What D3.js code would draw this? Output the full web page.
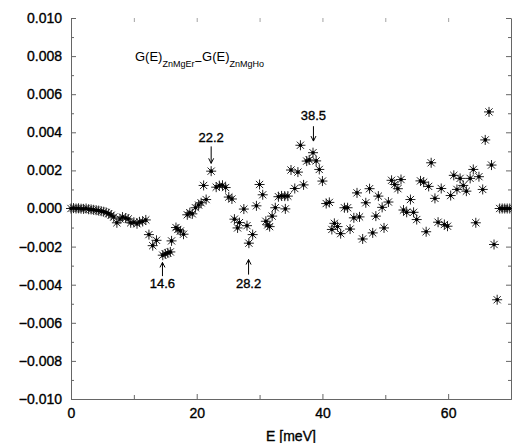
<!DOCTYPE html>
<html>
<head>
<meta charset="utf-8">
<script src="https://cdn.jsdelivr.net/npm/d3@7"></script>
<style>
  body { margin: 0; background: #fff; }
  svg { display: block; font-family: "Liberation Sans", Arial, Helvetica, sans-serif; }
  .txt { stroke: #000; stroke-width: 0.35px; }
</style>
</head>
<body>
<svg id="chart" width="512" height="443"></svg>
<script>
// energy in meV
const energy = [
  0, 0.4, 0.8, 1.2, 1.6, 2.0, 2.4, 2.8, 3.2, 3.6, 4.0, 4.4, 4.8, 5.2, 5.6, 6.0, 6.4, 6.8,
  7.3, 7.8, 8.2, 8.7, 9.1, 9.5, 10.0, 10.5, 10.9, 11.4, 11.9,
  12.4, 13.0, 13.6, 14.6, 15.0, 15.4, 15.8, 16.0, 16.7, 17.0, 17.4, 17.9,
  18.5, 18.9, 19.3, 19.8, 20.3, 20.7, 21.1, 21.5, 22.3, 23.1, 23.6, 24.1, 24.6,
  25.1, 25.6, 26.0, 26.5, 26.8, 27.5, 28.0, 28.3, 28.9, 29.5, 30.0, 30.5,
  31.0, 31.3, 31.6, 32.0, 32.5, 33.0, 33.5, 34.0, 34.1, 34.5, 35.0, 35.6,
  36.1, 36.5, 37.0, 37.5, 37.9, 38.5, 39.0, 39.5, 40.0, 40.6, 41.1, 41.5,
  41.9, 42.4, 42.9, 43.5, 44.0, 44.4, 45.0, 45.5, 45.9, 46.4, 46.9, 47.5,
  48.0, 48.5, 48.9, 49.5, 49.8, 50.5, 51.0, 51.5, 52.0, 52.5, 52.9, 53.4,
  54.0, 54.5, 55.0, 55.6, 56.1, 56.5, 56.9, 57.3, 57.9, 58.4, 58.9, 59.4,
  59.9, 60.4, 60.9, 61.4, 61.9, 62.4, 62.9, 63.5, 64.0, 64.4, 64.9, 65.5,
  65.9, 66.5, 66.9, 67.3, 67.8, 68.2, 68.6, 69.0, 69.4, 69.8
];
// G(E)ZnMgEr - G(E)ZnMgHo
const diff = [
  0.00000, 0.00002, 0.00000, 0.00001, -0.00001, -0.00002, 0.00000, -0.00004, -0.00005, -0.00007,
  -0.00009, -0.00011, -0.00014, -0.00017, -0.00021, -0.00027, -0.00035, -0.00045,
  -0.00075, -0.00055, -0.00045, -0.00050, -0.00055, -0.00075, -0.00072, -0.00080, -0.00070, -0.00068, -0.00060,
  -0.00137, -0.00195, -0.00167, -0.00245, -0.00238, -0.00233, -0.00228, -0.00170, -0.00100, -0.00110, -0.00118, -0.00135,
  -0.00033, -0.00022, -0.00028, 0.00004, 0.00018, 0.00030, 0.00121, 0.00047, 0.00196, 0.00112, 0.00120, 0.00122, 0.00110,
  0.00060, 0.00050, -0.00056, -0.00102, -0.00074, -0.00003, -0.00090, -0.00182, -0.00137, 0.00014, 0.00126, 0.00072,
  -0.00067, -0.00086, -0.00095, -0.00040, 0.00004, 0.00062, 0.00066, 0.00065, -0.00002, 0.00065, 0.00202, 0.00105,
  0.00191, 0.00332, 0.00124, 0.00249, 0.00255, 0.00293, 0.00250, 0.00205, 0.00144, 0.00026, 0.00032, -0.00110,
  -0.00078, -0.00095, -0.00132, 0.00004, 0.00004, -0.00108, -0.00049, 0.00082, -0.00044, -0.00160, 0.00030, 0.00104,
  -0.00128, -0.00040, 0.00065, 0.00006, -0.00102, 0.00034, 0.00148, 0.00126, 0.00104, 0.00152, -0.00008, -0.00020,
  0.00047, -0.00020, -0.00058, 0.00145, 0.00138, -0.00122, 0.00116, 0.00240, 0.00053, -0.00072, 0.00105, -0.00084,
  -0.00093, 0.00068, 0.00174, 0.00100, 0.00158, 0.00121, 0.00091, 0.00158, 0.00205, -0.00075, 0.00167, 0.00100,
  0.00360, 0.00507, 0.00228, -0.00189, -0.00479, 0.00000, 0.00000, 0.00000, 0.00000, 0.00000
];

const xTicks = [0, 20, 40, 60];
const xMinor = [10, 30, 50];
const yTicks = [-0.010, -0.008, -0.006, -0.004, -0.002, 0.000, 0.002, 0.004, 0.006, 0.008, 0.010];
const yMinor = [-0.009, -0.007, -0.005, -0.003, -0.001, 0.001, 0.003, 0.005, 0.007, 0.009];

// peak markers: label, energy, arrow tail, arrow tip, label centre
const peakLabels = ["14.6", "22.2", "28.2", "38.5"];
const peakE = [14.55, 22.3, 28.25, 38.57];
const peakTail = [-0.00355, 0.00326, -0.00347, 0.00432];
const peakTip = [-0.00283, 0.00237, -0.00268, 0.00354];
const peakText = [-0.00395, 0.00374, -0.00392, 0.00486];

const width = 512, height = 443;
const margin = {top: 18, right: 1, bottom: 44, left: 71};

const svg = d3.select("#chart");

const x = d3.scaleLinear().domain([0, 70]).range([margin.left, width - margin.right]);
const y = d3.scaleLinear().domain([-0.010, 0.010]).range([height - margin.bottom, margin.top]);

const axisColor = "#666";

// left axis
const gl = svg.append("g")
    .attr("transform", `translate(${margin.left},0)`)
    .call(d3.axisLeft(y).tickValues(yTicks).tickFormat(d3.format(".3f"))
        .tickSizeInner(-5).tickSizeOuter(0).tickPadding(9));
gl.append("g").call(d3.axisLeft(y).tickValues(yMinor).tickFormat("").tickSizeInner(-3).tickSizeOuter(0));

// right axis
const gr = svg.append("g")
    .attr("transform", `translate(${width - margin.right},0)`)
    .call(d3.axisRight(y).tickValues(yTicks).tickFormat("").tickSizeInner(-5).tickSizeOuter(0));
gr.append("g").call(d3.axisRight(y).tickValues(yMinor).tickFormat("").tickSizeInner(-3).tickSizeOuter(0));
gr.select(".domain").attr("stroke-opacity", 0.5);

// bottom axis
const gb = svg.append("g")
    .attr("transform", `translate(0,${height - margin.bottom})`)
    .call(d3.axisBottom(x).tickValues(xTicks).tickFormat(d3.format("d"))
        .tickSizeInner(-5).tickSizeOuter(0).tickPadding(9));
gb.append("g").call(d3.axisBottom(x).tickValues(xMinor).tickFormat("").tickSizeInner(-4).tickSizeOuter(0));

// top ticks, no line
const gt = svg.append("g")
    .attr("transform", `translate(0,${margin.top})`)
    .call(d3.axisTop(x).tickValues(xTicks.concat(xMinor)).tickFormat("").tickSizeInner(-4).tickSizeOuter(0));
gt.select(".domain").remove();
gt.selectAll(".tick line").attr("stroke-opacity", 0.6);

svg.selectAll(".domain").attr("stroke", axisColor);
svg.selectAll(".tick line").attr("stroke", axisColor);
svg.selectAll(".tick text")
    .attr("fill", "#000")
    .attr("class", "txt")
    .style("font-size", "14px")
    .text(function() { return this.textContent.replace("-", "\u2212"); });

// x label
svg.append("text")
    .attr("class", "txt")
    .attr("x", (x.range()[0] + x.range()[1]) / 2)
    .attr("y", 441)
    .attr("text-anchor", "middle")
    .style("font-size", "14px")
    .text("E [meV]");

// title inside the plot
const title = svg.append("text")
    .attr("x", 135)
    .attr("y", 61)
    .style("font-size", "13px");
title.append("tspan").text("G(E)");
title.append("tspan").attr("dy", 6).style("font-size", "9px").text("ZnMgEr");
title.append("tspan").attr("dy", -1).text("\u2212");
title.append("tspan").attr("dy", -5).text("G(E)");
title.append("tspan").attr("dy", 6).style("font-size", "9px").text("ZnMgHo");

// asterisk markers
const star = "M-5,0H5M0,-5V5M-3.6,-3.6L3.6,3.6M-3.6,3.6L3.6,-3.6";
const points = d3.zip(energy, diff);

svg.append("g")
    .selectAll("path")
    .data(points)
    .join("path")
    .attr("transform", d => `translate(${x(d[0])},${y(d[1])})`)
    .attr("d", star)
    .attr("fill", "none")
    .attr("stroke", "#222")
    .attr("stroke-width", 1);

svg.append("g")
    .selectAll("circle")
    .data(points)
    .join("circle")
    .attr("cx", d => x(d[0]))
    .attr("cy", d => y(d[1]))
    .attr("r", 1.8)
    .attr("fill", "#000");

// peak arrows
const peaks = peakLabels.map((t, i) => ({t, e: peakE[i], tail: peakTail[i], tip: peakTip[i], txt: peakText[i]}));
const pg = svg.append("g").selectAll("g").data(peaks).join("g");

pg.append("path")
    .attr("fill", "none")
    .attr("stroke", "#000")
    .attr("stroke-width", 1)
    .attr("d", d => {
        const px = x(d.e), y0 = y(d.tail), y1 = y(d.tip);
        const s = y1 > y0 ? -1 : 1;
        return `M${px},${y0}L${px},${y1}M${px - 2.5},${y1 + s * 5}L${px},${y1}L${px + 2.5},${y1 + s * 5}`;
    });

pg.append("text")
    .attr("class", "txt")
    .attr("x", d => x(d.e))
    .attr("y", d => y(d.txt))
    .attr("dy", "0.35em")
    .attr("text-anchor", "middle")
    .style("font-size", "13px")
    .text(d => d.t);
</script>
</body>
</html>
